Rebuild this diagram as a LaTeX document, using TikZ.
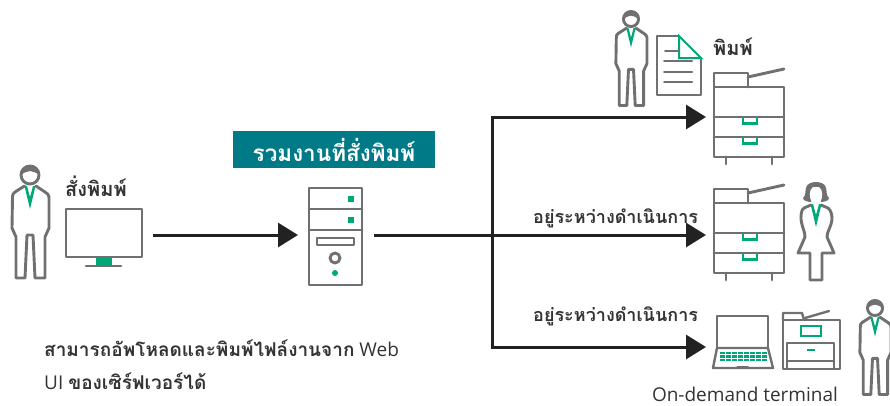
\documentclass[tikz,border=0pt]{standalone}
\usepackage{fontspec}
\setmainfont{Open Sans}
\newfontfamily\thaifont[Script=Thai]{Loma}
\usetikzlibrary{arrows.meta}
\definecolor{icongrey}{HTML}{707070}
\definecolor{icongreen}{HTML}{00A878}
\definecolor{bannerteal}{HTML}{007A87}
\definecolor{arrowblack}{HTML}{222222}
\tikzset{
  icon/.style={draw=icongrey, line width=2.9pt, line join=round, line cap=round},
  greenline/.style={draw=icongreen, line width=2.9pt},
  greenfill/.style={fill=icongreen},
  flow/.style={draw=arrowblack, line width=3pt, -{Triangle[length=20pt,width=24pt]}},
  label/.style={anchor=west, font=\thaifont\fontsize{18}{20}\selectfont\bfseries, text=black!80, inner sep=0pt},
  manperson/.pic={
    \fill[icongrey] (-9,0) arc (180:360:9 and 9.5) .. controls (6,-3) and (3,-3) .. (0,-4) .. controls (-3,-3) and (-6,-3) .. cycle;
    \draw[icon] (0,0) circle (9);
    \draw[icon] (-5.5,11) -- (-15,17) .. controls (-17,18) and (-17.5,20) .. (-17.5,22) -- (-18,53) -- (-14,62) -- (-14,103) -- (-5,103) -- (-3,60) -- (3,60) -- (5,103) -- (15,103) -- (15,62) -- (19,53) -- (19,22) .. controls (19,20) and (17,18) .. (15,17) -- (6,11);
    \fill[greenfill] (-5.5,11) -- (0,34) -- (5.5,11) -- (3,11) -- (0,22) -- (-3,11) -- cycle;
  },
  womanperson/.pic={
    \fill[icongrey] (-4,9) .. controls (-8,9) and (-13,8) .. (-13,5) .. controls (-10,3) and (-11,-2) .. (-10,-5) .. controls (-9,-13) and (9,-13) .. (10,-5) .. controls (11,-2) and (10,3) .. (13,5) .. controls (13,8) and (8,9) .. (4,9) -- cycle;
    \fill[white] (-4.5,9) .. controls (-7,3) and (-7,-3) .. (-3,-6) -- (3,-6) .. controls (7,-3) and (7,3) .. (4.5,9) -- cycle;
    \draw[icon] (-5,12) -- (-12,15) .. controls (-15,17) and (-15,22) .. (-15,26) .. controls (-14,35) and (-11,38) .. (-11,44) -- (-18,60) -- (-6,60) -- (-6,87) -- (6,87) -- (6,60) -- (18,60) -- (11,44) .. controls (11,38) and (15,35) .. (16,26) .. controls (16,22) and (15,17) .. (12,15) -- (5,12);
    \fill[greenfill] (-5.5,11) -- (0,34) -- (5.5,11) -- (3,11) -- (0,22) -- (-3,11) -- cycle;
  },
  printer/.pic={
    \draw[icon] (0,14) rectangle (70,84);
    \draw[icon] (0,14) -- (0,0) -- (34,0) -- (34,14);
    \draw[icon] (34,4) -- (70,-4);
    \draw[greenline] (29,44) -- (29,50.5) -- (43,50.5) -- (43,44);
    \draw[greenline] (29,64) -- (29,70.5) -- (43,70.5) -- (43,64);
    \draw[icon] (0,44) -- (70,44) (0,64) -- (70,64);
    \draw[icon] (12,84) -- (12,91) (58,84) -- (58,91);
  }
}

\begin{document}
\begin{tikzpicture}[x=1pt, y=-1pt]

\useasboundingbox (0,0) rectangle (890,405);

\pic at (30,175) {manperson};
\draw[icon] (66,209) rectangle (142,257);
\fill[greenfill] (96,257) rectangle (112,266);
\draw[icon] (86,266) -- (121,266);

\draw[icon] (309,188) rectangle (362,285);
\draw[icon] (309,209) -- (362,209) (309,230) -- (362,230);
\fill[greenfill] (348,196) rectangle (354,202);
\fill[greenfill] (348,217) rectangle (354,223);
\draw[icon] (317,238) rectangle (354,245);
\draw[icon] (335,258) circle (5);
\fill[greenfill] (335,273) circle (3);

\pic[scale=.84] at (631,19) {manperson};
\draw[icon, line width=2pt] (679,36) -- (657,36) -- (657,95) -- (701,95) -- (701,58);
\draw[greenline, line width=2pt] (679,36) -- (679,58) -- (701,58) -- cycle;
\draw[icon, line width=2pt] (665,51) -- (679,51) (664,61) -- (692,61) (664,72) -- (692,72) (664,82) -- (692,82);
\pic at (714,73) {printer};

\pic at (714,189) {printer};
\pic at (816,193) {womanperson};

\draw[icon, line width=2.4pt] (717,348) -- (717,316) -- (768,316) -- (768,348);
\draw[icon, line width=2.4pt] (717,348) -- (768,348) -- (773,368) -- (713,368) -- cycle;
\foreach \row in {0,1,2}
  \foreach \col in {0,...,7}
    \fill[greenfill] (720+\col*6,351.5+\row*3.5) rectangle ++(4.8,2.6);
\draw[icon, line width=1pt] (737,366) -- (748,366);

\draw[icon, line width=2.4pt] (783,320) rectangle (840,369);
\draw[icon, line width=2.4pt] (783,320) -- (783,313) -- (802,313) -- (804,320);
\draw[icon, line width=2.4pt] (805,318) -- (829,311);
\draw[greenline, line width=2pt] (801,326) rectangle (821,336);
\draw[icon, line width=2.4pt] (787,369) -- (787,343) -- (834,343) -- (834,369);
\draw[icon, line width=2.4pt] (787,361) -- (834,361);
\draw[greenline, line width=2.4pt] (807,350) -- (815,350);
\pic[scale=.84] at (875,308) {manperson};

\node[fill=bannerteal, text=white, font=\thaifont\fontsize{22.5}{26}\selectfont\bfseries, minimum width=202pt, minimum height=37pt, inner sep=0pt] (banner) at (334,149.5) {รวมงานที่สั่งพิมพ์};
\node[label, font=\thaifont\fontsize{20}{22}\selectfont\bfseries] (order) at (65,186) {สั่งพิมพ์};
\node[label, font=\thaifont\fontsize{20}{22}\selectfont\bfseries] (done) at (713,47) {พิมพ์};
\node[label] (progressA) at (533,218) {อยู่ระหว่างดำเนินการ};
\node[label] (progressB) at (533,316) {อยู่ระหว่างดำเนินการ};
\node[anchor=north west, inner sep=0pt, align=left, font=\fontsize{19}{33}\selectfont, text=black!80] (note) at (44,340)
  {{\thaifont\bfseries สามารถอัพโหลดและพิมพ์ไฟล์งานจาก} Web\\UI {\thaifont\bfseries ของเซิร์ฟเวอร์ได้}};
\node[anchor=center, inner sep=0pt, font=\fontsize{19}{22}\selectfont, text=black!80] (terminal) at (745,394) {On-demand terminal};

\coordinate (pcout) at (153,235);
\coordinate (srvin) at (298,235);
\coordinate (srvout) at (374,235);
\coordinate (junction) at (492,235);
\coordinate (printA) at (706,117);
\coordinate (printB) at (706,235);
\coordinate (laptop) at (706,347);

\draw[flow] (pcout) -- (srvin);
\draw[flow] (srvout) -- (printB);
\draw[flow] (junction) |- (printA);
\draw[flow] (junction) |- (laptop);

\end{tikzpicture}
\end{document}
